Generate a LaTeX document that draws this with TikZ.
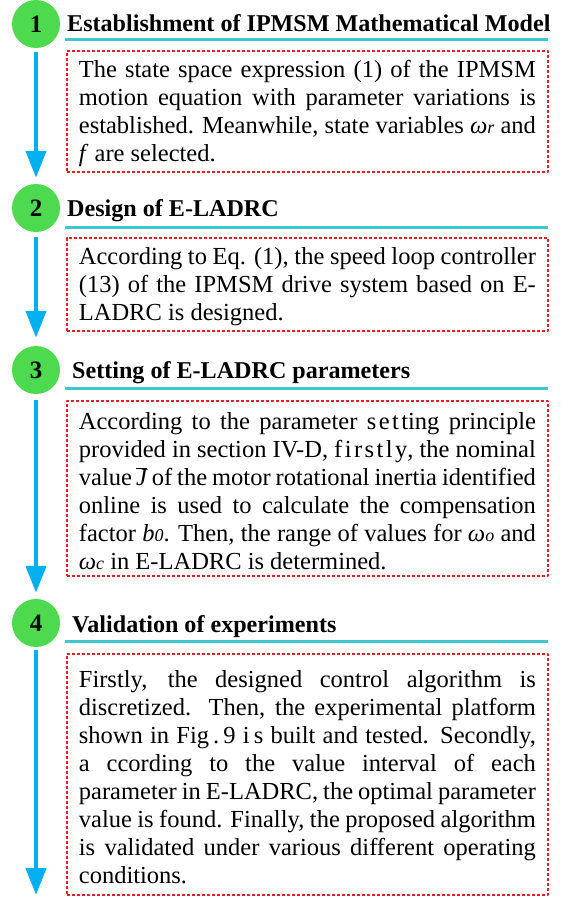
\documentclass[tikz,border=0pt]{standalone}
\usepackage{fontspec}
\setmainfont{Liberation Serif}
\usetikzlibrary{arrows.meta}
\definecolor{stepgreen}{RGB}{78,218,78}
\definecolor{linecyan}{RGB}{60,200,205}
\definecolor{arrowblue}{RGB}{0,176,240}
\definecolor{boxred}{RGB}{228,30,36}
\newcommand\symb[2]{\textit{#1}{\fontsize{18}{18}\selectfont\textit{#2}}}
\newcommand\spaced[1]{{\addfontfeature{LetterSpace=10}#1}}
\tolerance=10000
\hyphenpenalty=10000
\begin{document}
\begin{tikzpicture}[x=1pt, y=-1pt, line join=round,
  stepnum/.style={circle, fill=stepgreen, minimum size=48pt, inner sep=0pt, font=\fontsize{25}{25}\selectfont\bfseries},
  steptitle/.style={anchor=base west, inner sep=0pt, font=\fontsize{24.1}{29}\selectfont\bfseries},
  notebox/.style={draw=boxred, line width=1.8pt, dash pattern=on 3pt off 2pt, anchor=north west, text width=457pt, inner xsep=12pt, inner ysep=5pt, align=justify, font=\fontsize{24.5}{28}\selectfont},
  underline/.style={draw=linecyan, line width=3pt},
  flow/.style={draw=arrowblue, line width=4.5pt, -{Triangle[length=27pt,width=20pt]}}]
\useasboundingbox (0,0) rectangle (568,897);
\node[stepnum] (c1) at (36,24) {1};
\node[stepnum] (c2) at (36,208) {2};
\node[stepnum] (c3) at (36,370) {3};
\node[stepnum] (c4) at (36,623) {4};
\node[steptitle] (t1) at (67,31) {Establishment of IPMSM Mathematical Model};
\node[steptitle] (t2) at (67,216) {Design of E-LADRC};
\node[steptitle] (t3) at (72,378) {Setting of E-LADRC parameters};
\node[steptitle] (t4) at (72,632) {Validation of experiments};
\draw[underline] (65,39) -- (548,39);
\draw[underline] (65,227) -- (548,227);
\draw[underline] (65,388) -- (548,388);
\draw[underline] (65,641) -- (548,641);
\node[notebox, minimum height=119pt] (b1) at (66,50) {\rule{0pt}{22pt}The state space expression (1) of the IPMSM\linebreak motion equation with parameter variations is\linebreak established. Meanwhile, state variables \symb{ω}{r} and\linebreak \textit{f} are selected.};
\node[notebox, minimum height=88pt] (b2) at (66,237) {\rule{0pt}{22pt}According to Eq. (1), the speed loop controller\linebreak (13) of the IPMSM drive system based on E-\linebreak LADRC is designed.};
\node[notebox, minimum height=175pt] (b3) at (66,400) {\rule{0pt}{22pt}According to the parameter \spaced{sett}ing principle\linebreak provided in section IV-D, \spaced{firstly}, the nominal\linebreak value\,$\overline{\textit{J}}$ of the motor rotational inertia identified\linebreak online is used to calculate the compensation\linebreak factor \symb{b}{0}. Then, the range of values for \symb{ω}{o} and\linebreak \symb{ω}{c} in E-LADRC is determined.};
\node[notebox, minimum height=241pt] (b4) at (66,653) {\rule{0pt}{22pt}Firstly, the designed control algorithm is\linebreak discretized. Then, the experimental platform\linebreak shown in Fig\,.\,9 i\,s built and tested. Secondly,\linebreak a ccording to the value interval of each\linebreak parameter in E-LADRC, the optimal parameter\linebreak value is found. Finally, the proposed algorithm\linebreak is validated under various different operating\linebreak conditions.};
\coordinate (end) at (36,895);
\draw[flow] ([yshift=-4pt]c1.south) -- ([yshift=6pt]c2.north);
\draw[flow] ([yshift=-5pt]c2.south) -- ([yshift=8pt]c3.north);
\draw[flow] ([yshift=-6pt]c3.south) -- ([yshift=6pt]c4.north);
\draw[flow] ([yshift=-3pt]c4.south) -- (end);
\end{tikzpicture}
\end{document}
